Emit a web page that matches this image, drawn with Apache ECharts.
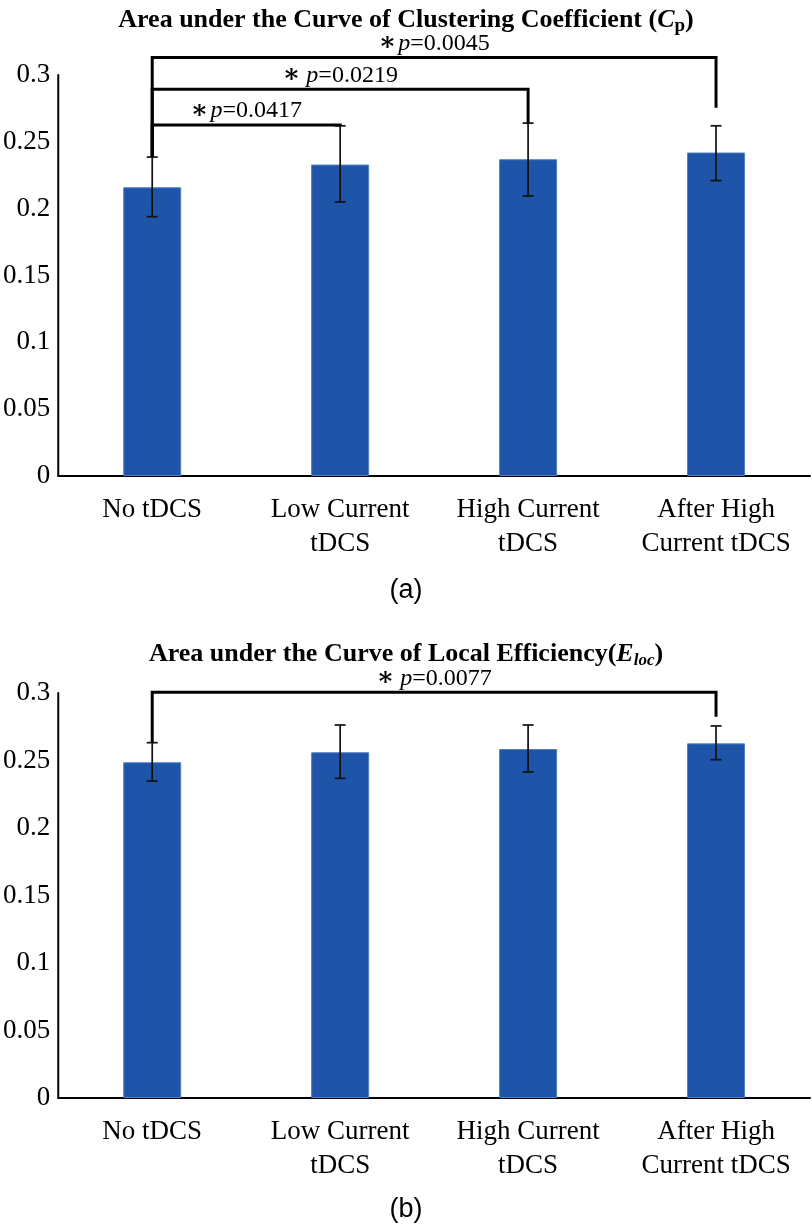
<!DOCTYPE html>
<html>
<head>
<meta charset="utf-8">
<script src="https://cdn.jsdelivr.net/npm/echarts@6/dist/echarts.min.js"></script>
<style>html,body{margin:0;padding:0;background:#fff}#c{width:812px;height:1229px}</style>
</head>
<body>
<div id="c"></div>
<script>
const categories = ['No tDCS', 'Low Current\ntDCS', 'High Current\ntDCS', 'After High\nCurrent tDCS'];
const cpMean = [0.216, 0.233, 0.237, 0.242];
const cpErrLow = [0.194, 0.205, 0.2095, 0.221];
const cpErrHigh = [0.2386, 0.262, 0.264, 0.262];
const elocMean = [0.2487, 0.2561, 0.2585, 0.2627];
const elocErrLow = [0.2348, 0.2368, 0.2415, 0.2506];
const elocErrHigh = [0.2632, 0.2763, 0.2763, 0.2756];
// brackets: [fromIdx, toIdx, level, leftEnd, rightEnd, label]
const cpBrackets = [
  [0, 1, 0.2626, 0.2386, 0.2621, '∗p=0.0417'],
  [0, 2, 0.2893, 0.2386, 0.2639, '∗ p=0.0219'],
  [0, 3, 0.3130, 0.2386, 0.2755, '∗p=0.0045']
];
const elocBrackets = [
  [0, 3, 0.3005, 0.2632, 0.2825, '∗ p=0.0077']
];
const yTicks = {min: 0, max: 0.3, interval: 0.05};

const BAR = '#1F55A9';
const serif = '"Liberation Serif", "DejaVu Serif", serif';

function errItem(params, api) {
  const x = api.value(0);
  const lo = api.coord([x, api.value(1)]);
  const hi = api.coord([x, api.value(2)]);
  const w = 5.5;
  const st = {stroke: '#111', lineWidth: 1.7};
  return {type: 'group', children: [
    {type: 'line', shape: {x1: lo[0], y1: lo[1], x2: hi[0], y2: hi[1]}, style: st},
    {type: 'line', shape: {x1: lo[0]-w, y1: lo[1], x2: lo[0]+w, y2: lo[1]}, style: st},
    {type: 'line', shape: {x1: hi[0]-w, y1: hi[1], x2: hi[0]+w, y2: hi[1]}, style: st}
  ]};
}
function richLabel(label) {
  const m = /^∗( ?)p=(.*)$/.exec(label);
  const gap = m[1] ? '{sw| }' : '{sp| }';
  return '{s|∗}' + gap + '{p|p}{n|=' + m[2] + '}';
}
function bracketItem(params, api) {
  const a = api.value(0), b = api.value(1);
  const pL = api.coord([a, api.value(2)]);
  const pR = api.coord([b, api.value(2)]);
  const eL = api.coord([a, api.value(3)]);
  const eR = api.coord([b, api.value(4)]);
  const label = api.value(5);
  return {type: 'group', children: [
    {type: 'polyline', shape: {points: [[eL[0], eL[1]], [pL[0], pL[1]], [pR[0], pR[1]], [eR[0], eR[1]]]},
     style: {stroke: '#000', lineWidth: 3, fill: null}},
    {type: 'text', x: (pL[0] + pR[0]) / 2, y: pL[1] - 1,
     style: {text: richLabel(label), align: 'center', verticalAlign: 'bottom',
       rich: {
         s: {fontFamily: serif, fontSize: 26, fontWeight: 'bold', fill: '#000'},
         sp: {fontFamily: serif, fontSize: 8, fill: '#000'},
         sw: {fontFamily: serif, fontSize: 24, fill: '#000'},
         p: {fontFamily: serif, fontSize: 24, fontStyle: 'italic', fill: '#000'},
         n: {fontFamily: serif, fontSize: 24, fill: '#000'}
       }}}
  ]};
}
function toErr(lo, hi) { return lo.map((v, i) => [i, v, hi[i]]); }

const chart = echarts.init(document.getElementById('c'), null, {renderer: 'canvas'});
const yAxisBase = (gi) => ({
  type: 'value', gridIndex: gi, min: yTicks.min, max: yTicks.max, interval: yTicks.interval,
  axisLine: {show: true, lineStyle: {color: '#000', width: 2}},
  axisTick: {show: false}, splitLine: {show: false},
  axisLabel: {fontFamily: serif, fontSize: 27, color: '#000', margin: 8}
});
const xAxisBase = (gi) => ({
  type: 'category', gridIndex: gi, data: categories,
  axisLine: {show: true, lineStyle: {color: '#000', width: 2}},
  axisTick: {show: false},
  axisLabel: {fontFamily: serif, fontSize: 27, color: '#000', margin: 17, lineHeight: 34, interval: 0}
});
const titleRich = {
  fontFamily: serif, fontSize: 26, fontWeight: 'bold', color: '#000'
};
chart.setOption({
  animation: false,
  title: [
    {text: 'Area under the Curve of Clustering Coefficient ({i|C}{sub|p})', left: 'center', top: 0,
     textStyle: Object.assign({}, titleRich, {rich: {
       i: {fontFamily: serif, fontSize: 26, fontWeight: 'bold', fontStyle: 'italic', color: '#000'},
       sub: {fontFamily: serif, fontSize: 19, fontWeight: 'bold', color: '#000', padding: [12, 0, 0, 0]}
     }})},
    {text: 'Area under the Curve of Local Efficiency({i|E}{sub|loc})', left: 'center', top: 635,
     textStyle: Object.assign({}, titleRich, {rich: {
       i: {fontFamily: serif, fontSize: 26, fontWeight: 'bold', fontStyle: 'italic', color: '#000'},
       sub: {fontFamily: serif, fontSize: 17, fontWeight: 'bold', fontStyle: 'italic', color: '#000', padding: [12, 0, 0, 0]}
     }})},
    {text: '(a)', left: 'center', top: 572, textStyle: {fontFamily: '"Liberation Sans", Arial, sans-serif', fontSize: 27, fontWeight: 'normal', color: '#000'}},
    {text: '(b)', left: 'center', top: 1191, textStyle: {fontFamily: '"Liberation Sans", Arial, sans-serif', fontSize: 27, fontWeight: 'normal', color: '#000'}}
  ],
  grid: [
    {left: 58, right: 2, top: 75, height: 401},
    {left: 58, right: 2, top: 693, height: 405}
  ],
  xAxis: [xAxisBase(0), xAxisBase(1)],
  yAxis: [yAxisBase(0), yAxisBase(1)],
  series: [
    {type: 'bar', xAxisIndex: 0, yAxisIndex: 0, data: cpMean, barWidth: 58,
     itemStyle: {color: BAR, borderColor: '#4f7fc8', borderWidth: 1}},
    {type: 'custom', xAxisIndex: 0, yAxisIndex: 0, data: toErr(cpErrLow, cpErrHigh), renderItem: errItem, z: 5, clip: false},
    {type: 'custom', xAxisIndex: 0, yAxisIndex: 0, data: cpBrackets, renderItem: bracketItem, z: 6, clip: false,
     encode: {x: [0, 1], y: [2]}},
    {type: 'bar', xAxisIndex: 1, yAxisIndex: 1, data: elocMean, barWidth: 58,
     itemStyle: {color: BAR, borderColor: '#4f7fc8', borderWidth: 1}},
    {type: 'custom', xAxisIndex: 1, yAxisIndex: 1, data: toErr(elocErrLow, elocErrHigh), renderItem: errItem, z: 5, clip: false},
    {type: 'custom', xAxisIndex: 1, yAxisIndex: 1, data: elocBrackets, renderItem: bracketItem, z: 6, clip: false,
     encode: {x: [0, 1], y: [2]}}
  ]
});
</script>
</body>
</html>
